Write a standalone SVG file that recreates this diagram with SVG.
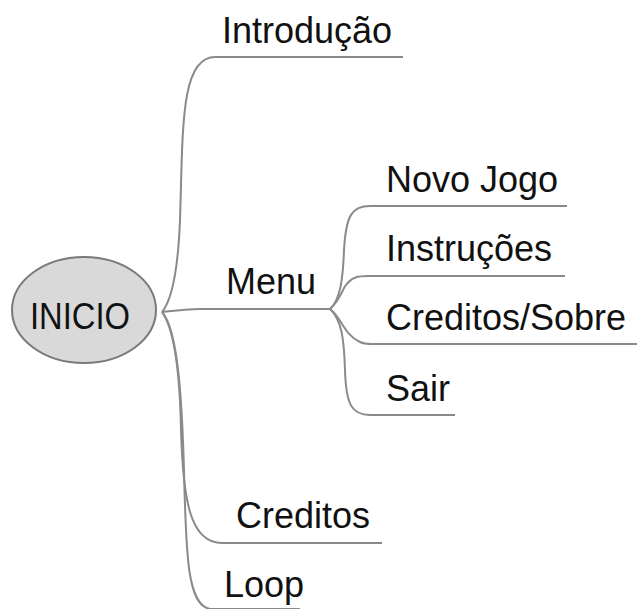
<svg xmlns="http://www.w3.org/2000/svg" width="637" height="609" viewBox="0 0 637 609">
<style>
.c{fill:none;stroke:#8a8a8a;stroke-width:2}
.t{font-family:"Liberation Sans",Arial,sans-serif;font-size:36px;fill:#111}
</style>
<rect width="637" height="609" fill="#fff"/>
<g id="connectors">
<path class="c" d="M162,312 C172,300 178,270 180,220 C183,130 180,57 215,57 H403"/>
<path class="c" d="M162,312 C180,310 190,309 200,309 H330"/>
<path class="c" d="M162,312 C175,330 180,380 181,430 C183,500 190,543 222,543 H382"/>
<path class="c" d="M162,312 C178,330 182,400 184,470 C186,560 188,605 210,609 H300"/>
<path class="c" d="M330,309 C340,300 343,280 344,250 C346,215 352,206 370,206 H567"/>
<path class="c" d="M330,309 C340,300 342,290 346,285 C352,277 358,276 368,276 H565"/>
<path class="c" d="M330,309 C342,318 344,335 360,342 C364,344 368,344 372,344 H637"/>
<path class="c" d="M330,309 C342,320 344,340 345,370 C346,405 352,415 370,415 H455"/>
</g>
<g id="inicio">
<ellipse cx="84" cy="310" rx="72" ry="53" fill="#d9d9d9" stroke="#7a7a7a" stroke-width="2"/>
<text class="t" x="80" y="329" text-anchor="middle" font-size="33" textLength="100" lengthAdjust="spacingAndGlyphs">INICIO</text>
</g>
<g id="introducao"><text class="t" x="222" y="43">Introdução</text></g>
<g id="menu"><text class="t" x="226" y="294">Menu</text></g>
<g id="novojogo"><text class="t" x="386" y="192">Novo Jogo</text></g>
<g id="instrucoes"><text class="t" x="386" y="261">Instruções</text></g>
<g id="creditossobre"><text class="t" x="386" y="330">Creditos/Sobre</text></g>
<g id="sair"><text class="t" x="386" y="401">Sair</text></g>
<g id="creditos"><text class="t" x="236" y="528">Creditos</text></g>
<g id="loop"><text class="t" x="224" y="597">Loop</text></g>
</svg>
